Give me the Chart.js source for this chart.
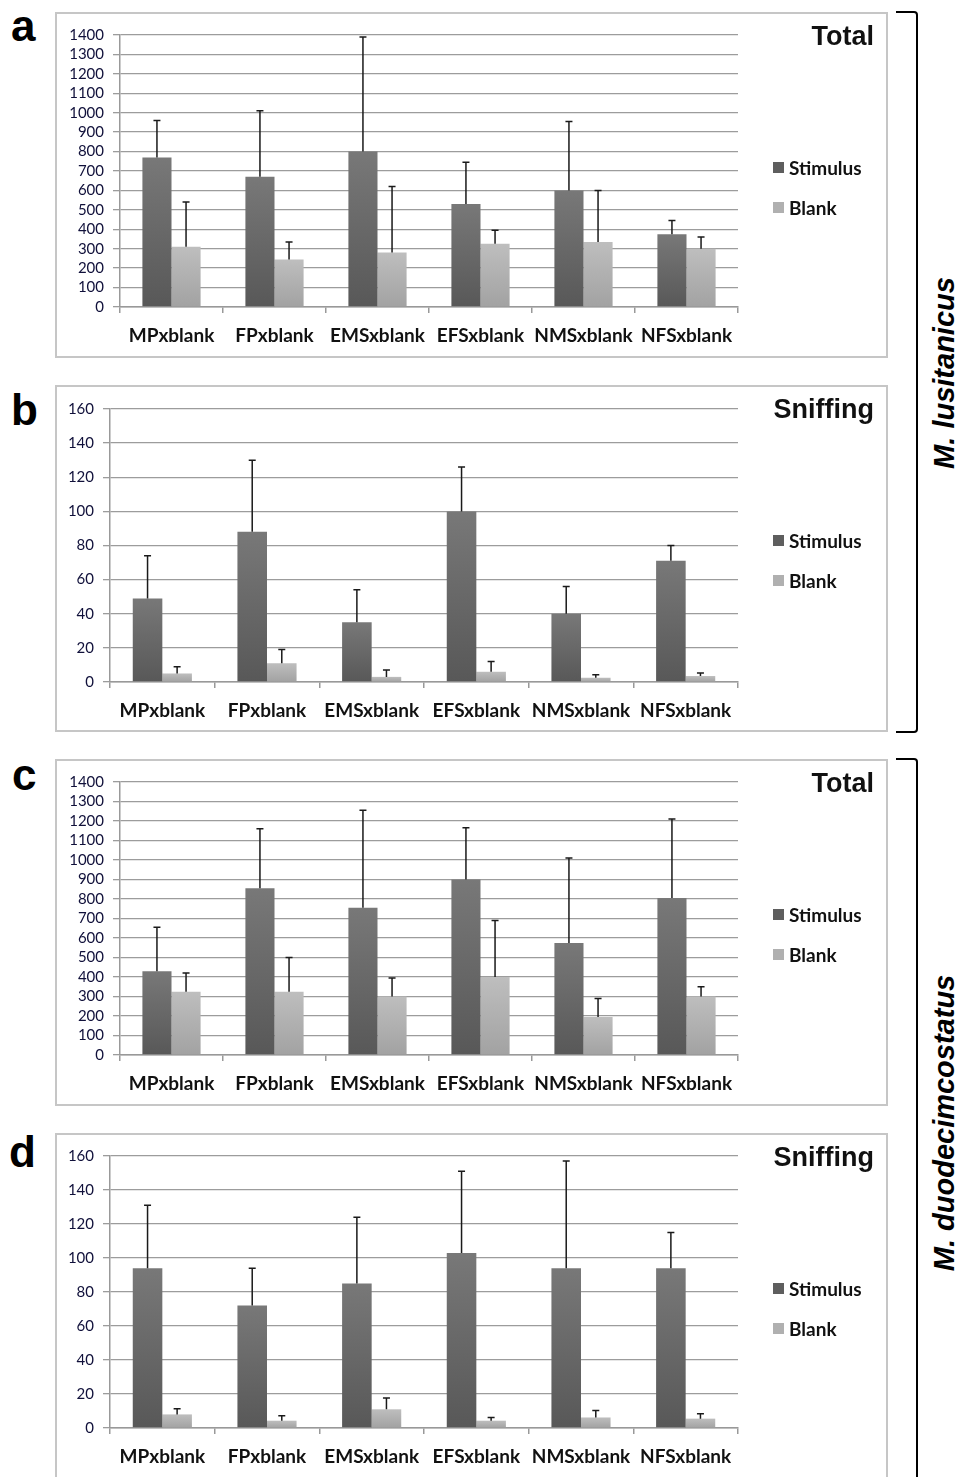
<!DOCTYPE html>
<html>
<head>
<meta charset="utf-8">
<script src="https://cdn.jsdelivr.net/npm/chart.js@4"></script>
<style>
  body { margin: 0; width: 960px; height: 1477px; overflow: hidden; background: #fff; position: relative; font-family: "Liberation Sans", Arial, sans-serif; }
  .panel { position: absolute; left: 55px; width: 833px; outline: 2px solid #c6c6c6; outline-offset: -2px; }
  .panel canvas { position: absolute; left: 0; top: 0; }
  .letter { position: absolute; font: bold 44px/44px "Liberation Sans", Arial, sans-serif; color: #000; }
  .title { position: absolute; right: 14px; top: 11px; font: bold 27px/27px "Liberation Sans", Arial, sans-serif; color: #111; }
  .legend { position: absolute; left: 718px; top: 146px; font: bold 19px/19px Lato, sans-serif; color: #111; }
  .legend div { position: relative; padding-left: 16px; height: 19px; margin-bottom: 21px; }
  .legend span { position: absolute; left: 0; top: 4px; width: 11px; height: 11px; }
  .bracket { position: absolute; left: 896px; width: 20px; border: 2px solid #000; border-left: none; border-radius: 0 4px 4px 0; }
  .species { position: absolute; font: italic bold 29px/29px "Liberation Sans", Arial, sans-serif; white-space: nowrap; transform: translate(-50%, -50%) rotate(-90deg); }
</style>
</head>
<body>
<div class="letter" style="left:11px; top:4px;">a</div>
<div class="letter" style="left:11px; top:388px;">b</div>
<div class="letter" style="left:12px; top:753px;">c</div>
<div class="letter" style="left:9px; top:1130px;">d</div>

<div class="bracket" style="top:11px; height:718px;"></div>
<div class="bracket" style="top:758px; height:800px;"></div>
<div class="species" style="left:944px; top:373px;">M. lusitanicus</div>
<div class="species" style="left:944px; top:1123px;">M. duodecimcostatus</div>

<div id="panels"></div>

<script>
// categories
const categories = ['MPxblank', 'FPxblank', 'EMSxblank', 'EFSxblank', 'NMSxblank', 'NFSxblank'];

// a - M. lusitanicus, Total
const totalLusStimulus = [770, 670, 800, 530, 600, 375];
const totalLusStimulusErr = [190, 340, 590, 215, 355, 70];
const totalLusBlank = [310, 245, 280, 325, 335, 300];
const totalLusBlankErr = [230, 90, 340, 70, 265, 60];

// b - M. lusitanicus, Sniffing
const sniffLusStimulus = [49, 88, 35, 100, 40, 71];
const sniffLusStimulusErr = [25, 42, 19, 26, 16, 9];
const sniffLusBlank = [5, 11, 3, 6, 2.5, 3.5];
const sniffLusBlankErr = [4, 8, 4, 6, 1.8, 1.8];

// c - M. duodecimcostatus, Total
const totalDuoStimulus = [430, 855, 755, 900, 575, 805];
const totalDuoStimulusErr = [225, 305, 500, 265, 435, 405];
const totalDuoBlank = [325, 325, 300, 400, 195, 300];
const totalDuoBlankErr = [95, 175, 95, 290, 95, 50];

// d - M. duodecimcostatus, Sniffing
const sniffDuoStimulus = [94, 72, 85, 103, 94, 94];
const sniffDuoStimulusErr = [37, 22, 39, 48, 63, 21];
const sniffDuoBlank = [8, 4.3, 11, 4.3, 6.2, 5.5];
const sniffDuoBlankErr = [3.3, 2.9, 6.6, 1.9, 4.1, 2.9];

const panels = [
  { title: 'Total', top: 12, height: 346, left: 65, areaTop: 23, xH: 51, max: 1400, step: 100,
    stim: totalLusStimulus, stimErr: totalLusStimulusErr, blank: totalLusBlank, blankErr: totalLusBlankErr },
  { title: 'Sniffing', top: 385, height: 347, left: 55, areaTop: 24, xH: 50, max: 160, step: 20,
    stim: sniffLusStimulus, stimErr: sniffLusStimulusErr, blank: sniffLusBlank, blankErr: sniffLusBlankErr },
  { title: 'Total', top: 759, height: 347, left: 65, areaTop: 23, xH: 51, max: 1400, step: 100,
    stim: totalDuoStimulus, stimErr: totalDuoStimulusErr, blank: totalDuoBlank, blankErr: totalDuoBlankErr },
  { title: 'Sniffing', top: 1133, height: 347, left: 55, areaTop: 23, xH: 52, max: 160, step: 20,
    stim: sniffDuoStimulus, stimErr: sniffDuoStimulusErr, blank: sniffDuoBlank, blankErr: sniffDuoBlankErr }
];

// gradient fill per bar, lighter at top
function barFill(top, bottom) {
  return ctx => {
    const chart = ctx.chart;
    if (!chart.chartArea || !ctx.parsed) return top;
    const y = chart.scales.y;
    const y0 = y.getPixelForValue(ctx.parsed.y);
    const y1 = y.getPixelForValue(0);
    const g = chart.ctx.createLinearGradient(0, y0, 0, y1);
    g.addColorStop(0, top);
    g.addColorStop(1, bottom);
    return g;
  };
}

const errorBars = {
  id: 'errorBars',
  afterDatasetsDraw(chart) {
    const c = chart.ctx;
    const y = chart.scales.y;
    c.save();
    c.strokeStyle = '#1a1a1a';
    c.lineWidth = 1.5;
    chart.data.datasets.forEach((ds, i) => {
      chart.getDatasetMeta(i).data.forEach((bar, j) => {
        const yTop = y.getPixelForValue(ds.data[j] + ds.errors[j]);
        c.beginPath();
        c.moveTo(bar.x, bar.y);
        c.lineTo(bar.x, yTop);
        c.moveTo(bar.x - 3.5, yTop);
        c.lineTo(bar.x + 3.5, yTop);
        c.stroke();
      });
    });
    c.restore();
  }
};

const holder = document.getElementById('panels');
panels.forEach(p => {
  const box = document.createElement('div');
  box.className = 'panel';
  box.style.top = p.top + 'px';
  box.style.height = p.height + 'px';
  box.innerHTML =
    '<canvas width="833" height="' + p.height + '"></canvas>' +
    '<div class="title">' + p.title + '</div>' +
    '<div class="legend">' +
      '<div><span style="background:#5e5e5e"></span>Stimulus</div>' +
      '<div><span style="background:#b0b0b0"></span>Blank</div>' +
    '</div>';
  holder.appendChild(box);

  new Chart(box.querySelector('canvas'), {
    type: 'bar',
    data: {
      labels: categories,
      datasets: [
        { label: 'Stimulus', data: p.stim, errors: p.stimErr,
          backgroundColor: barFill('#787878', '#585858') },
        { label: 'Blank', data: p.blank, errors: p.blankErr,
          backgroundColor: barFill('#bebebe', '#a2a2a2') }
      ]
    },
    options: {
      responsive: false,
      animation: false,
      layout: { padding: { left: 0, right: 150, top: p.areaTop, bottom: 0 } },
      datasets: { bar: { categoryPercentage: 0.565, barPercentage: 1 } },
      plugins: { legend: { display: false }, tooltip: { enabled: false } },
      scales: {
        x: {
          grid: { offset: true, drawOnChartArea: false, tickLength: 6, color: '#999', lineWidth: 1.5 },
          border: { color: '#999', width: 1.5 },
          ticks: { padding: 11, color: '#111', maxRotation: 0, minRotation: 0, autoSkip: false,
                   font: { family: 'Lato', size: 19, weight: 'bold' } },
          afterFit: s => { s.height = p.xH; }
        },
        y: {
          min: 0, max: p.max,
          grid: { color: '#9c9c9c', lineWidth: 1.3, tickLength: 7 },
          border: { color: '#999', width: 1.5 },
          ticks: { stepSize: p.step, autoSkip: false, padding: 9, color: '#10103a',
                   font: { family: 'Lato', size: 15 }, callback: v => String(v) },
          afterFit: s => { s.width = p.left; }
        }
      }
    },
    plugins: [errorBars]
  });
});
</script>
</body>
</html>
